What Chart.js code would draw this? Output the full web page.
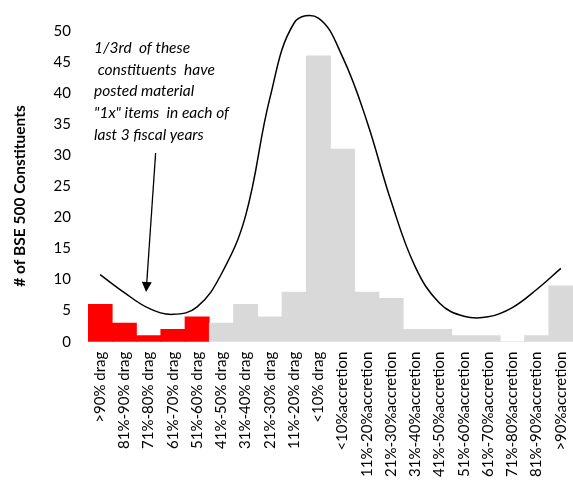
<!DOCTYPE html>
<html>
<head>
<meta charset="utf-8">
<script src="https://cdn.jsdelivr.net/npm/chart.js@4/dist/chart.umd.min.js"></script>
<style>
  html, body { margin: 0; padding: 0; background: #fff; overflow: hidden; }
  canvas { display: block; }
</style>
</head>
<body>
<canvas id="c" width="573" height="491"></canvas>
<script>
// EPS impact buckets for BSE 500 constituents
const categories = [
  '>90% drag', '81%-90% drag', '71%-80% drag', '61%-70% drag', '51%-60% drag',
  '41%-50% drag', '31%-40% drag', '21%-30% drag', '11%-20% drag', '<10% drag',
  '<10%accretion', '11%-20%accretion', '21%-30%accretion', '31%-40%accretion',
  '41%-50%accretion', '51%-60%accretion', '61%-70%accretion', '71%-80%accretion',
  '81%-90%accretion', '>90%accretion'
];

// Number of constituents in each bucket
const constituents = [6, 3, 1, 2, 4, 3, 6, 4, 8, 46, 31, 8, 7, 2, 2, 1, 1, 0, 1, 9];

// Smoothed distribution line through the buckets
const distribution = [10.8, 7.9, 5.4, 4.4, 5.6, 10.9, 20.3, 39.2, 51.3, 52.1,
                      45.8, 35.5, 22.6, 12.0, 6.2, 4.1, 4.0, 5.5, 8.4, 11.8];

// Y axis tick labels
const yTicks = [0, 5, 10, 15, 20, 25, 30, 35, 40, 45, 50];

// Buckets with material heavy drag are highlighted
const highlightedBuckets = 5;

const note = [
  '1/3rd  of these',
  ' constituents  have',
  'posted material',
  '"1x" items  in each of',
  'last 3 fiscal years'
];

const RED = '#ff0000';
const GREY = '#d9d9d9';

const overlay = {
  id: 'overlay',
  afterDraw(chart) {
    const ctx = chart.ctx;
    const area = chart.chartArea;
    const x = chart.scales.x, y = chart.scales.y;
    ctx.save();
    // axis title
    ctx.fillStyle = '#000';
    ctx.font = 'bold 15.5px Lato';
    ctx.textAlign = 'center';
    ctx.textBaseline = 'middle';
    ctx.translate(20, 196);
    ctx.rotate(-Math.PI / 2);
    ctx.fillText('# of BSE 500 Constituents', 0, 0);
    ctx.restore();

    // note text
    ctx.save();
    ctx.fillStyle = '#000';
    ctx.font = 'italic 15.5px Lato';
    ctx.textAlign = 'left';
    ctx.textBaseline = 'middle';
    const tx = area.left + 6;
    note.forEach((line, i) => ctx.fillText(line, tx, 48 + i * 21.7));

    // arrow pointing at the highlighted buckets
    const tipX = x.getPixelForValue(2) - 2.5;
    const tipY = y.getPixelForValue(8);
    const startX = tipX + 9.5, startY = 153;
    const ang = Math.atan2(tipY - startY, tipX - startX);
    const headLen = 10, headW = 5;
    const bx = tipX - headLen * Math.cos(ang), by = tipY - headLen * Math.sin(ang);
    ctx.strokeStyle = '#000';
    ctx.lineWidth = 1.3;
    ctx.beginPath();
    ctx.moveTo(startX, startY);
    ctx.lineTo(bx, by);
    ctx.stroke();
    ctx.beginPath();
    ctx.moveTo(tipX, tipY);
    ctx.lineTo(bx + headW * Math.sin(ang), by - headW * Math.cos(ang));
    ctx.lineTo(bx - headW * Math.sin(ang), by + headW * Math.cos(ang));
    ctx.closePath();
    ctx.fillStyle = '#000';
    ctx.fill();
    ctx.restore();
  }
};

new Chart(document.getElementById('c'), {
  type: 'bar',
  data: {
    labels: categories,
    datasets: [
      {
        type: 'line',
        data: distribution,
        borderColor: '#000',
        borderWidth: 1.5,
        tension: 0.4,
        pointRadius: 0,
        fill: false,
        order: 0
      },
      {
        type: 'bar',
        data: constituents,
        backgroundColor: categories.map((_, i) => i < highlightedBuckets ? RED : GREY),
        borderWidth: 0,
        barPercentage: 1,
        categoryPercentage: 1,
        order: 1
      }
    ]
  },
  plugins: [overlay],
  options: {
    responsive: false,
    animation: false,
    devicePixelRatio: 1,
    layout: { padding: 0 },
    plugins: { legend: { display: false }, tooltip: { enabled: false } },
    scales: {
      x: {
        grid: { display: false, drawTicks: false },
        border: { display: false },
        ticks: {
          autoSkip: false,
          maxRotation: 90,
          minRotation: 90,
          padding: 10,
          color: '#000',
          font: { family: 'Lato', size: 15 }
        },
        afterFit(s) { s.height = 149.3; s.paddingLeft = 0; s.paddingRight = 0; }
      },
      y: {
        min: 0,
        max: 55,
        grid: { display: false, drawTicks: false },
        border: { display: false },
        afterBuildTicks(s) { s.ticks = yTicks.map(v => ({ value: v })); },
        ticks: {
          padding: 17,
          color: '#000',
          font: { family: 'Lato', size: 15 }
        },
        afterFit(s) { s.width = 88; s.paddingTop = 0; s.paddingBottom = 0; }
      }
    }
  }
});
</script>
</body>
</html>
